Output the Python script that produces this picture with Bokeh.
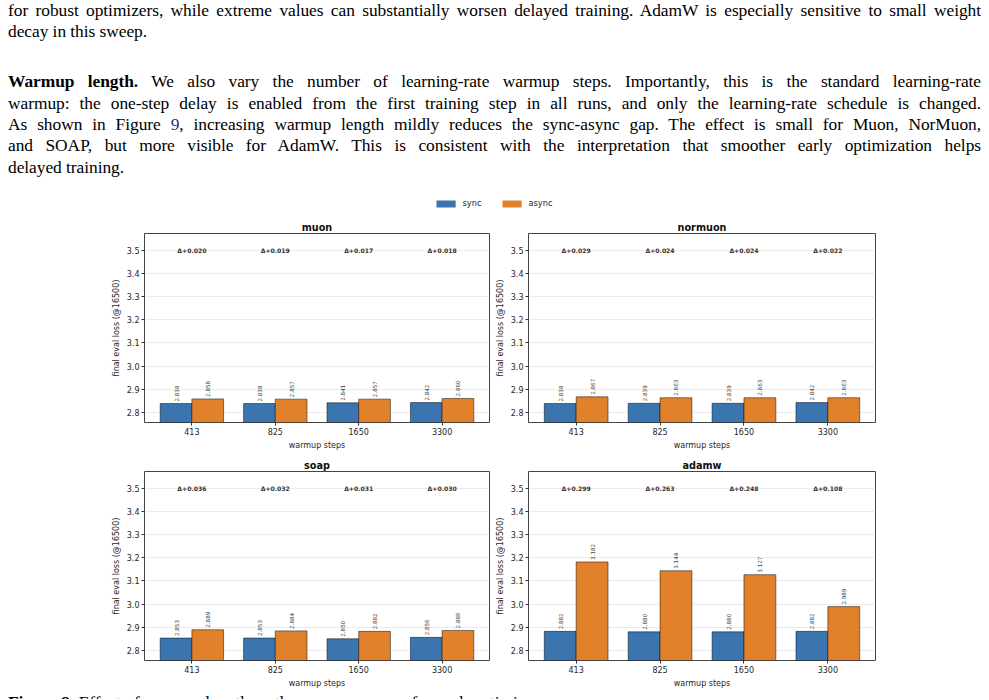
import math

from bokeh.core.properties import value
from bokeh.embed import file_html
from bokeh.layouts import column, row
from bokeh.models import Div, FixedTicker, Legend, LegendItem, NumeralTickFormatter, Range1d
from bokeh.plotting import figure
from bokeh.resources import INLINE

# ---- data -------------------------------------------------------------
warmup_steps = ["413", "825", "1650", "3300"]
y_ticks = [2.8, 2.9, 3.0, 3.1, 3.2, 3.3, 3.4, 3.5]

muon_sync = [2.838, 2.838, 2.841, 2.842]
muon_async = [2.858, 2.857, 2.857, 2.860]
muon_delta = [0.020, 0.019, 0.017, 0.018]

normuon_sync = [2.838, 2.839, 2.839, 2.842]
normuon_async = [2.867, 2.863, 2.863, 2.863]
normuon_delta = [0.029, 0.024, 0.024, 0.022]

soap_sync = [2.853, 2.853, 2.850, 2.856]
soap_async = [2.889, 2.884, 2.882, 2.886]
soap_delta = [0.036, 0.032, 0.031, 0.030]

adamw_sync = [2.882, 2.880, 2.880, 2.882]
adamw_async = [3.182, 3.144, 3.127, 2.989]
adamw_delta = [0.299, 0.263, 0.248, 0.108]

# ---- style ------------------------------------------------------------
SYNC_COLOR = "#3a75af"
ASYNC_COLOR = "#e1812c"
FONT = "DejaVu Sans"
SERIF = "'Liberation Serif','Times New Roman','Nimbus Roman','DejaVu Serif',serif"
TEXT_SIZE = "17.4px"
BAR_W = 0.38
DELTA_Y = 3.5


def make_panel(title, sync_vals, async_vals, delta_vals, left_col):
    idx = list(range(len(warmup_steps)))
    if left_col:
        width, b_left, b_right = 490, 144, 1
    else:
        width, b_left, b_right = 393, 38, 8
    p = figure(
        width=width, height=238,
        x_range=Range1d(-0.568, 3.568), y_range=Range1d(2.756, 3.573),
        output_backend="svg", toolbar_location=None,
        min_border_left=b_left, min_border_right=b_right,
        min_border_top=19, min_border_bottom=30,
        title=title,
    )
    p.title.align = "center"
    p.title.text_font = FONT
    p.title.text_font_size = "9.7px"
    p.title.text_font_style = "bold"
    p.title.text_color = "#111111"
    p.title.standoff = 1

    p.background_fill_color = "white"
    p.border_fill_color = "white"
    p.outline_line_color = "#444444"
    p.outline_line_width = 1

    p.xgrid.grid_line_color = None
    p.ygrid.ticker = FixedTicker(ticks=y_ticks)
    p.ygrid.grid_line_color = "#e6e6e6"
    p.ygrid.grid_line_width = 0.8

    p.xaxis.ticker = FixedTicker(ticks=idx)
    p.xaxis.major_label_overrides = {i: s for i, s in enumerate(warmup_steps)}
    p.xaxis.axis_label = "warmup steps"
    p.yaxis.ticker = FixedTicker(ticks=y_ticks)
    p.yaxis.formatter = NumeralTickFormatter(format="0.0")
    p.yaxis.axis_label = "final eval loss (@16500)"

    for ax in (p.xaxis[0], p.yaxis[0]):
        ax.axis_line_color = None
        ax.major_tick_line_color = "#333333"
        ax.major_tick_out = 3
        ax.major_tick_in = 0
        ax.minor_tick_line_color = None
        ax.major_label_text_font = FONT
        ax.major_label_text_font_size = "8px"
        ax.major_label_text_color = "#262626"
        ax.major_label_standoff = 2
        ax.axis_label_text_font = FONT
        ax.axis_label_text_font_size = "8px"
        ax.axis_label_text_font_style = "normal"
        ax.axis_label_text_color = "#262626"
        ax.axis_label_standoff = 3

    xs_sync = [i - BAR_W / 2 for i in idx]
    xs_async = [i + BAR_W / 2 for i in idx]
    for xs, vals, color in ((xs_sync, sync_vals, SYNC_COLOR), (xs_async, async_vals, ASYNC_COLOR)):
        p.vbar(x=xs, top=vals, bottom=0, width=BAR_W, fill_color=color,
               line_color="black", line_alpha=0.6, line_width=0.8)
        p.text(x=xs, y=vals, text=[f"{v:.3f}" for v in vals], angle=math.pi / 2,
               text_align="left", text_baseline="middle", y_offset=-2,
               text_font=value(FONT), text_font_size="5.6px", text_color="#444444")

    p.text(x=idx, y=[DELTA_Y] * len(idx), text=[f"\u0394+{d:.3f}" for d in delta_vals],
           text_align="center", text_baseline="middle",
           text_font=value(FONT), text_font_size="6.1px", text_font_style="bold",
           text_color="#333333")
    return p


p_muon = make_panel("muon", muon_sync, muon_async, muon_delta, True)
p_normuon = make_panel("normuon", normuon_sync, normuon_async, normuon_delta, False)
p_soap = make_panel("soap", soap_sync, soap_async, soap_delta, True)
p_adamw = make_panel("adamw", adamw_sync, adamw_async, adamw_delta, False)

# ---- shared legend ----------------------------------------------------
# zero-size bars that only serve as legend handles
leg_fig = figure(width=986, height=22, output_backend="svg", toolbar_location=None,
                 min_border=0, x_range=Range1d(0, 1), y_range=Range1d(0, 1))
leg_fig.axis.visible = False
leg_fig.grid.visible = False
leg_fig.outline_line_color = None
r_sync = leg_fig.vbar(x=[0], top=[0], bottom=[0], width=0, fill_color=SYNC_COLOR, line_color=None)
r_async = leg_fig.vbar(x=[0], top=[0], bottom=[0], width=0, fill_color=ASYNC_COLOR, line_color=None)
legend = Legend(
    items=[LegendItem(label="sync", renderers=[r_sync]),
           LegendItem(label="async", renderers=[r_async])],
    orientation="horizontal", location="center",
    border_line_color=None, background_fill_alpha=0,
    padding=0, margin=0, spacing=17, label_standoff=5,
    glyph_width=24, glyph_height=9, label_height=9,
    label_text_font=FONT, label_text_font_size="8.2px", label_text_color="#262626",
)
leg_fig.add_layout(legend, "center")

# ---- surrounding text ---------------------------------------------------
J = "text-align:justify;text-align-last:justify;"
L = "text-align:left;"
body_html = f"""
<div style="font-family:{SERIF};font-size:{TEXT_SIZE};letter-spacing:-0.05px;line-height:21.3px;color:#000;width:973px;margin-left:8px;">
<div style="{J}">for robust optimizers, while extreme values can substantially worsen delayed training. AdamW is especially sensitive to small weight</div>
<div style="{L}">decay in this sweep.</div>
<div style="height:28.8px"></div>
<div style="{J}"><b>Warmup length.</b> We also vary the number of learning-rate warmup steps. Importantly, this is the standard learning-rate</div>
<div style="{J}">warmup: the one-step delay is enabled from the first training step in all runs, and only the learning-rate schedule is changed.</div>
<div style="{J}">As shown in Figure <span style="color:#2b2ba6">9</span>, increasing warmup length mildly reduces the sync-async gap. The effect is small for Muon, NorMuon,</div>
<div style="{J}">and SOAP, but more visible for AdamW. This is consistent with the interpretation that smoother early optimization helps</div>
<div style="{L}">delayed training.</div>
</div>
"""
body = Div(text=body_html, width=989, height=192, margin=(0, 0, 0, 0))

caption_html = f"""
<div style="font-family:{SERIF};font-size:{TEXT_SIZE};line-height:21.3px;color:#000;margin-left:8px;padding-top:2px;white-space:nowrap;">
<b>Figure 9.</b> Effect of warmup length on the sync-async gap for each optimizer.
</div>
"""
caption = Div(text=caption_html, width=989, height=9, margin=(0, 0, 0, 0),
              styles={"overflow": "hidden"})

layout = column(
    body,
    leg_fig,
    row(p_muon, p_normuon),
    row(p_soap, p_adamw),
    caption,
)

open("out.html", "w").write(file_html(layout, INLINE))
